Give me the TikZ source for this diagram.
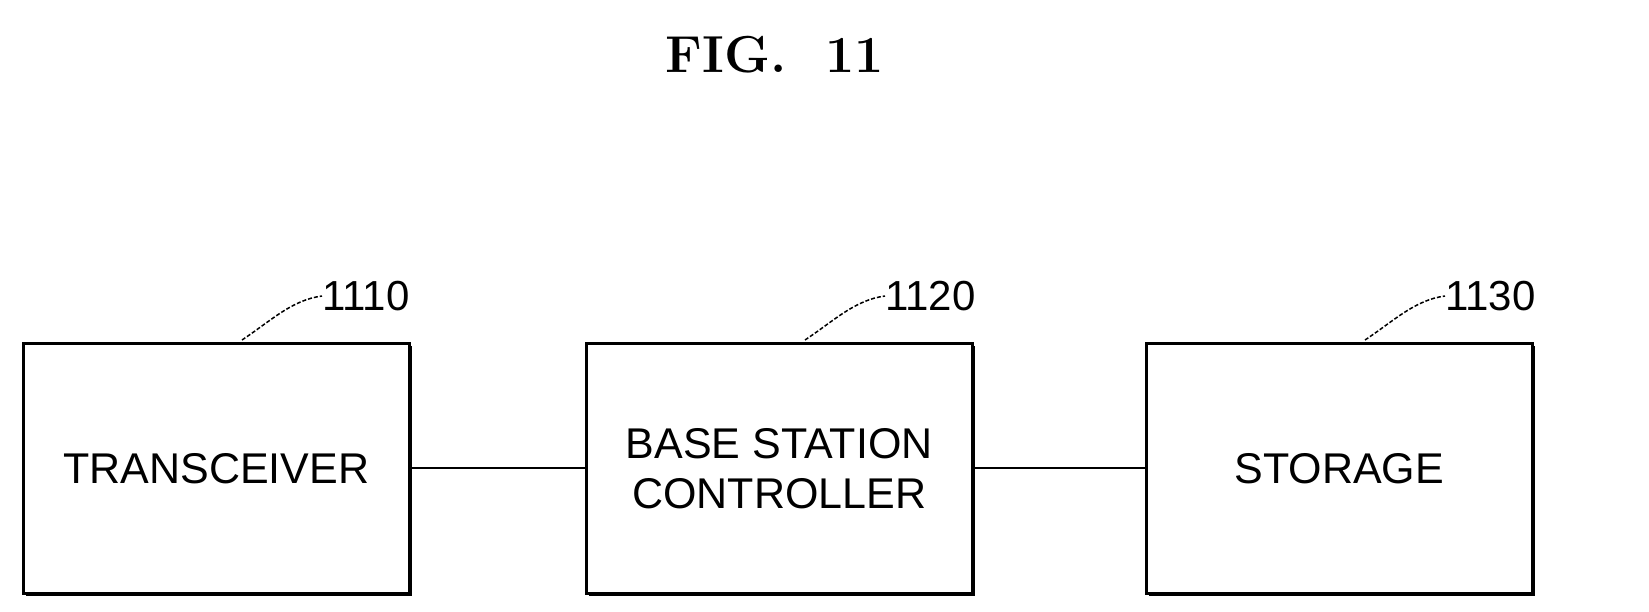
\documentclass[tikz,border=0pt]{standalone}
\usepackage{fontspec}
\setsansfont{Liberation Sans}
\begin{document}
\begin{tikzpicture}[x=1pt,y=-1pt,
  blk/.style={draw,line width=2.5pt,minimum width=386pt,minimum height=250pt,inner sep=0pt,font=\sffamily\fontsize{43}{50}\selectfont,align=center,anchor=north west},
  lbl/.style={font=\sffamily\fontsize{42}{46}\selectfont,anchor=west,inner sep=0pt},
  lead/.style={line width=1.5pt,dash pattern=on 4pt off 2pt}]
\useasboundingbox (0,0) rectangle (1649,612);
\node[font=\rmfamily\bfseries\fontsize{52}{60}\selectfont] (title) at (775,55) {FIG.\ \ 11};
\foreach \n/\x/\t/\r in {a/22/TRANSCEIVER/1110,b/585/BASE STATION\\CONTROLLER/1120,c/1145/STORAGE/1130}{
  \draw[line width=4pt] (\x+386+2,346) -- (\x+386+2,594) -- (\x+4,594);
  \node[blk] (\n) at (\x,342) {\t};
  \node[lbl] (\n l) at (\x+300,296) {\r};
  \draw[lead] (\x+220,340) .. controls (\x+250,320) and (\x+270,300) .. (\n l.west);
}
\draw[line width=2pt] (a.east) -- (b.west);
\draw[line width=2pt] (b.east) -- (c.west);
\end{tikzpicture}
\end{document}
